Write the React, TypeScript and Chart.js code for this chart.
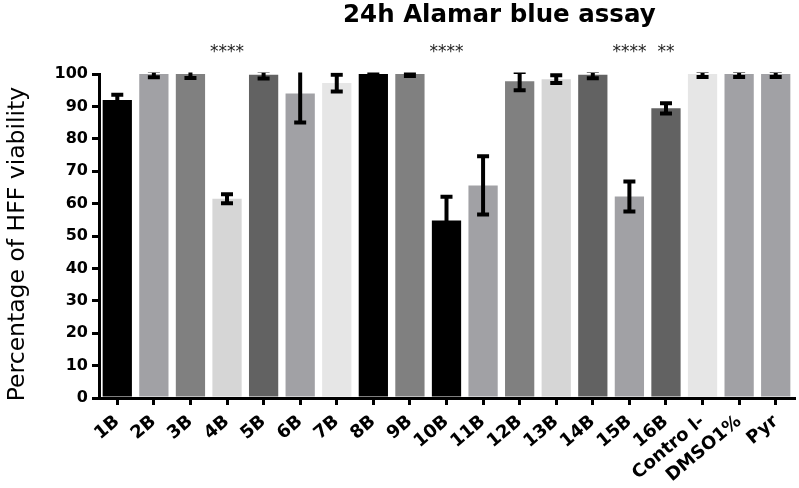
import React, { useEffect, useRef } from "react";
import { Chart, registerables } from "chart.js";

Chart.register(...registerables);

const CATEGORIES = [
  "1B", "2B", "3B", "4B", "5B", "6B", "7B", "8B", "9B", "10B",
  "11B", "12B", "13B", "14B", "15B", "16B", "Contro l-", "DMSO1%", "Pyr",
];
const MEANS = [92, 100, 100, 61.5, 99.8, 94, 97.2, 100, 100, 54.8, 65.6, 97.8, 98.4, 99.8, 62.2, 89.4, 100, 100, 100];
const ERRORS = [1.6, 1, 1.2, 1.4, 1.2, 9, 2.6, 0.3, 0.6, 7.3, 9, 2.8, 1.2, 1.1, 4.6, 1.6, 0.9, 0.9, 0.9];
const SIGNIFICANCE = ["", "", "", "****", "", "", "", "", "", "****", "", "", "", "", "****", "**", "", "", ""];
const Y_MIN = 0;
const Y_MAX = 100;
const Y_STEP = 10;
const TITLE = "24h Alamar blue assay";
const Y_TITLE = "Percentage of HFF viability";

const BAR_COLORS = [
  "#000000", "#a1a1a5", "#808080", "#d6d6d6", "#626262", "#a1a1a5", "#e6e6e6", "#000000",
  "#808080", "#000000", "#a1a1a5", "#808080", "#d6d6d6", "#626262", "#a1a1a5", "#626262",
  "#e6e6e6", "#a1a1a5", "#a1a1a5",
];

const FONT = "'DejaVu Sans', sans-serif";

const errorBarPlugin = {
  id: "errorBars",
  afterDatasetsDraw(chart: any) {
    const { ctx, chartArea } = chart;
    const meta = chart.getDatasetMeta(0);
    const y = chart.scales.y;
    ctx.save();
    ctx.beginPath();
    ctx.rect(chartArea.left, chartArea.top - 1.5, chartArea.right - chartArea.left, chartArea.bottom - chartArea.top + 1.5);
    ctx.clip();
    ctx.strokeStyle = "#000";
    ctx.lineWidth = 4;
    ctx.lineCap = "butt";
    meta.data.forEach((bar: any, i: number) => {
      const m = MEANS[i];
      const e = ERRORS[i];
      const x = bar.x;
      const yt = y.getPixelForValue(m + e);
      const yb = y.getPixelForValue(m - e);
      ctx.beginPath();
      ctx.moveTo(x, yt);
      ctx.lineTo(x, yb);
      ctx.moveTo(x - 6, yt);
      ctx.lineTo(x + 6, yt);
      ctx.moveTo(x - 6, yb);
      ctx.lineTo(x + 6, yb);
      ctx.stroke();
    });
    ctx.restore();
  },
};

const annotationPlugin = {
  id: "annotations",
  afterDraw(chart: any) {
    const { ctx, chartArea } = chart;
    const meta = chart.getDatasetMeta(0);
    ctx.save();
    ctx.fillStyle = "#000";
    ctx.textAlign = "center";
    ctx.textBaseline = "alphabetic";
    ctx.font = `bold 24.5px ${FONT}`;
    ctx.fillText(TITLE, chart.width * 0.625, 21.5);
    ctx.font = `17px ${FONT}`;
    ctx.fillStyle = "#222";
    SIGNIFICANCE.forEach((s, i) => {
      if (!s) return;
      ctx.fillText(s, meta.data[i].x, 57);
    });
    ctx.restore();

    ctx.save();
    ctx.fillStyle = "#000";
    ctx.font = `23.5px ${FONT}`;
    ctx.textAlign = "center";
    ctx.textBaseline = "middle";
    ctx.translate(18, (chartArea.top + chartArea.bottom) / 2 + 8);
    ctx.rotate(-Math.PI / 2);
    ctx.fillText(Y_TITLE, 0, 0);
    ctx.restore();
  },
};

export default function App() {
  const ref = useRef<HTMLCanvasElement>(null);
  useEffect(() => {
    if (!ref.current) return;
    const chart = new Chart(ref.current, {
      type: "bar",
      data: {
        labels: CATEGORIES,
        datasets: [
          {
            data: MEANS,
            backgroundColor: BAR_COLORS,
            borderWidth: 0,
            barPercentage: 0.8,
            categoryPercentage: 1,
          },
        ],
      },
      options: {
        responsive: false,
        animation: false,
        devicePixelRatio: 1,
        layout: { padding: { top: 74, right: 5, left: 0, bottom: 0 } },
        plugins: {
          legend: { display: false },
          tooltip: { enabled: false },
          title: { display: false },
        },
        scales: {
          x: {
            offset: true,
            grid: {
              offset: false,
              drawOnChartArea: false,
              drawTicks: true,
              tickLength: 7,
              color: "#000",
              lineWidth: 3,
            },
            border: { display: true, color: "#000", width: 3 },
            ticks: {
              autoSkip: false,
              maxRotation: 40,
              minRotation: 40,
              padding: 6,
              color: "#000",
              font: { family: FONT, size: 18, weight: "bold" },
            },
            afterFit: (s: any) => {
              s.height = 90;
            },
          },
          y: {
            min: Y_MIN,
            max: Y_MAX,
            grid: {
              drawOnChartArea: false,
              drawTicks: true,
              tickLength: 7,
              color: "#000",
              lineWidth: 3,
            },
            border: { display: true, color: "#000", width: 3 },
            ticks: {
              stepSize: Y_STEP,
              padding: 4,
              color: "#000",
              font: { family: FONT, size: 16, weight: "bold" },
            },
            title: { display: false },
            afterFit: (s: any) => {
              s.width = 99;
            },
          },
        },
      },
      plugins: [errorBarPlugin, annotationPlugin],
    });
    return () => chart.destroy();
  }, []);
  return (
    <div style={{ position: "fixed", left: 0, top: 0, width: 799, height: 488, background: "#fff" }}>
      <canvas ref={ref} width={799} height={488} />
    </div>
  );
}
